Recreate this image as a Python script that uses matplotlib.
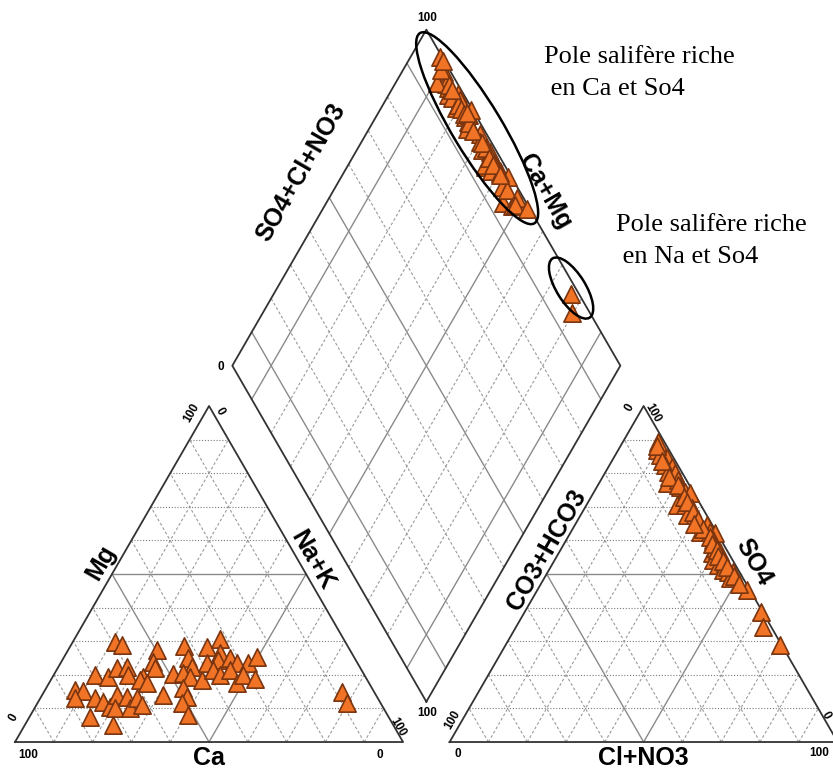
import numpy as np
import matplotlib.pyplot as plt
from matplotlib.patches import Ellipse

plt.rcParams['font.family'] = ['Liberation Sans', 'DejaVu Sans']

# cations (% meq)
ca = [59.3, 57.9, 49.7, 52.5, 52.9, 42.1, 42.9, 43.2, 36.3, 31.8, 33.9, 35.5, 32.1, 31.0,
      28.2, 25.0, 69.4, 66.4, 62.7, 60.0, 60.9, 57.4, 58.5, 57.2, 49.2, 46.5, 45.3, 42.5,
      38.8, 38.3, 37.3, 33.9, 34.0, 31.3, 28.8, 76.8, 74.9, 78.0, 72.9, 71.4, 70.3, 66.7,
      69.2, 64.4, 65.3, 62.0, 61.8, 54.9, 48.6, 49.0, 51.2, 51.4, 77.0, 72.1, 8.3, 8.6]
mg = [29.8, 28.9, 27.4, 23.8, 22.0, 28.6, 25.0, 22.3, 28.3, 30.7, 26.5, 24.4, 25.0, 23.5,
      23.5, 25.3, 19.9, 19.3, 22.0, 22.3, 19.9, 19.3, 18.5, 17.6, 20.2, 20.5, 19.3, 18.5,
      23.5, 21.4, 19.9, 21.4, 17.6, 19.9, 18.7, 15.5, 15.2, 13.1, 13.1, 11.9, 10.4, 14.0,
      10.1, 13.4, 10.1, 13.1, 11.0, 14.0, 16.1, 13.4, 11.6, 8.0, 7.4, 5.1, 14.9, 11.6]
nak = [10.9, 13.2, 22.9, 23.7, 25.1, 29.3, 32.1, 34.5, 35.4, 37.5, 39.6, 40.1, 42.9, 45.5,
       48.3, 49.7, 10.7, 14.3, 15.3, 17.7, 19.2, 23.3, 23.0, 25.2, 30.6, 33.0, 35.4, 39.0,
       37.7, 40.3, 42.8, 44.7, 48.4, 48.8, 52.5, 7.7, 9.9, 8.9, 14.0, 16.7, 19.3, 19.3,
       20.7, 22.2, 24.6, 24.9, 27.2, 31.1, 35.3, 37.6, 37.2, 40.6, 15.6, 22.8, 76.8, 79.8]

# anions (% meq), HCO3 is the remainder
so4 = [89.3, 86.9, 85.4, 84.5, 82.4, 81.8, 80.3, 80.0, 77.1, 78.0, 75.9, 74.4, 74.1, 70.5,
       70.5, 69.6, 67.5, 67.5, 62.5, 64.6, 62.5, 62.2, 60.1, 56.2, 57.7, 56.5, 54.2, 54.8,
       52.7, 53.3, 51.2, 50.6, 50.6, 48.8, 45.2, 38.7, 34.2, 28.8, 88.0, 83.5, 79.0, 76.5,
       73.0, 71.5, 68.5, 66.0, 63.5, 61.0, 59.0, 57.0, 55.5, 53.8, 52.0, 49.5, 47.0, 65.0]
cl = [9.1, 10.0, 11.5, 13.7, 14.3, 16.4, 16.1, 18.1, 17.5, 19.9, 21.5, 23.5, 24.9, 23.3,
      25.4, 27.7, 27.4, 29.4, 33.3, 34.0, 35.9, 37.3, 37.8, 39.5, 39.5, 41.4, 40.8, 42.8,
      42.9, 44.4, 44.8, 46.4, 47.7, 47.9, 54.0, 60.8, 63.7, 70.7, 9.5, 13.0, 17.0, 20.5,
      24.0, 25.5, 28.5, 31.0, 33.5, 36.5, 38.0, 40.5, 41.5, 43.5, 45.5, 48.5, 51.0, 30.5]

GAP = 12
H = np.sqrt(3) / 2
OX = 100 + GAP          # left corner of the anion triangle

GRID_DOT = dict(color='#7a7a7a', lw=0.8, ls=(0, (1, 1.6)))
GRID_DASH = dict(color='#9a9a9a', lw=0.8, ls=(0, (2.5, 2)))
GRID_SOLID = dict(color='#8a8a8a', lw=1.0, ls='-')
EDGE = dict(color='#333333', lw=1.3, ls='-')


def draw_triangle(ax, ox):
    for i in range(10, 100, 10):
        diag = GRID_SOLID if i == 50 else GRID_DASH
        horiz = GRID_SOLID if i == 50 else GRID_DOT
        ax.plot([ox + i / 2, ox + 100 - i / 2], [i * H, i * H], **horiz)
        ax.plot([ox + i, ox + i + (100 - i) / 2], [0, (100 - i) * H], **diag)
        ax.plot([ox + i, ox + i / 2], [0, i * H], **diag)
    ax.plot([ox, ox + 100, ox + 50, ox], [0, 0, 100 * H, 0], **EDGE)


def draw_diamond(ax):
    b = np.array([100 + GAP / 2, GAP * H])
    u = np.array([-0.5, H])
    v = np.array([0.5, H])
    for i in range(10, 100, 10):
        st = GRID_SOLID if i in (10, 50, 90) else GRID_DASH
        p0, p1 = b + i * u, b + i * u + 100 * v
        q0, q1 = b + i * v, b + i * v + 100 * u
        ax.plot([p0[0], p1[0]], [p0[1], p1[1]], **st)
        ax.plot([q0[0], q1[0]], [q0[1], q1[1]], **st)
    pts = np.array([b, b + 100 * u, b + 100 * (u + v), b + 100 * v, b])
    ax.plot(pts[:, 0], pts[:, 1], **EDGE)


fig = plt.figure(figsize=(8.33, 7.71), dpi=100)
ax = fig.add_axes([0, 0, 1, 1])
ax.set_xlim(-3.87, 210.8)
ax.set_ylim(-7.47, 191.24)
ax.set_axis_off()

draw_triangle(ax, 0)
draw_triangle(ax, OX)
draw_diamond(ax)

mg_a, nak_a = np.array(mg), np.array(nak)
so4_a, cl_a = np.array(so4), np.array(cl)

cx, cy = nak_a + mg_a / 2, mg_a * H
axx, ayy = OX + cl_a + so4_a / 2, so4_a * H
s = so4_a + cl_a
dx = (OX + nak_a + s) / 2
dy = np.sqrt(3) * (OX + s - nak_a) / 2

mk = dict(marker='^', s=155, facecolor='#f07326', edgecolor='#7a3510',
          linewidths=1.2, zorder=5)
ax.scatter(cx, cy, **mk)
ax.scatter(axx, ayy, **mk)
ax.scatter(dx, dy, **mk)

# axis names
big = dict(fontsize=18, fontweight='bold', ha='center', va='center')
ax.text(50, -4.0, 'Ca', **big)
ax.text(162, -4.2, 'Cl+NO3', **big)
ax.text(22.2, 46.4, 'Mg', rotation=60, **big)
ax.text(76.8, 46.9, 'Na+K', rotation=-60, **big)
ax.text(136.9, 49.5, 'CO3+HCO3', rotation=60, **big)
ax.text(190.5, 46.4, 'SO4', rotation=-60, **big)
ax.text(73.7, 146.9, 'SO4+Cl+NO3', rotation=60, **big)
ax.text(136.6, 141.8, 'Ca+Mg', rotation=-60, **big)

# corner values
sm = dict(fontsize=8.5, fontweight='bold', ha='center', va='center')
ax.text(3.4, -3.3, '100', **sm)
ax.text(94.1, -3.3, '0', **sm)
ax.text(-0.5, 6.2, '0', rotation=60, **sm)
ax.text(45.6, 84.8, '100', rotation=60, **sm)
ax.text(52.8, 85.3, '0', rotation=-60, **sm)
ax.text(98.7, 3.9, '100', rotation=-60, **sm)
ax.text(114.2, -3.0, '0', **sm)
ax.text(207.3, -2.8, '100', **sm)
ax.text(112.9, 5.7, '100', rotation=60, **sm)
ax.text(158.5, 86.1, '0', rotation=60, **sm)
ax.text(164.4, 84.8, '100', rotation=-60, **sm)
ax.text(209.0, 6.8, '0', rotation=-60, **sm)
ax.text(106.2, 186.6, '100', **sm)
ax.text(53.1, 96.6, '0', **sm)
ax.text(106.2, 7.6, '100', **sm)

# salt-rich end members
ax.add_patch(Ellipse((119.1, 158.2), 57.2, 12.8, angle=-59, fill=False,
                     ec='black', lw=1.8, zorder=6))
ax.add_patch(Ellipse((143.3, 117.0), 18.0, 7.4, angle=-58, fill=False,
                     ec='black', lw=1.8, zorder=6))

note = dict(fontsize=19, family='Liberation Serif', ha='left', va='center')
ax.text(136.3, 176.5, 'Pole salifère riche', **note)
ax.text(136.3, 168.4, ' en Ca et So4', **note)
ax.text(155.0, 133.2, 'Pole salifère riche', **note)
ax.text(155.0, 124.9, ' en Na et So4', **note)

fig.savefig('out.png', dpi=100)
